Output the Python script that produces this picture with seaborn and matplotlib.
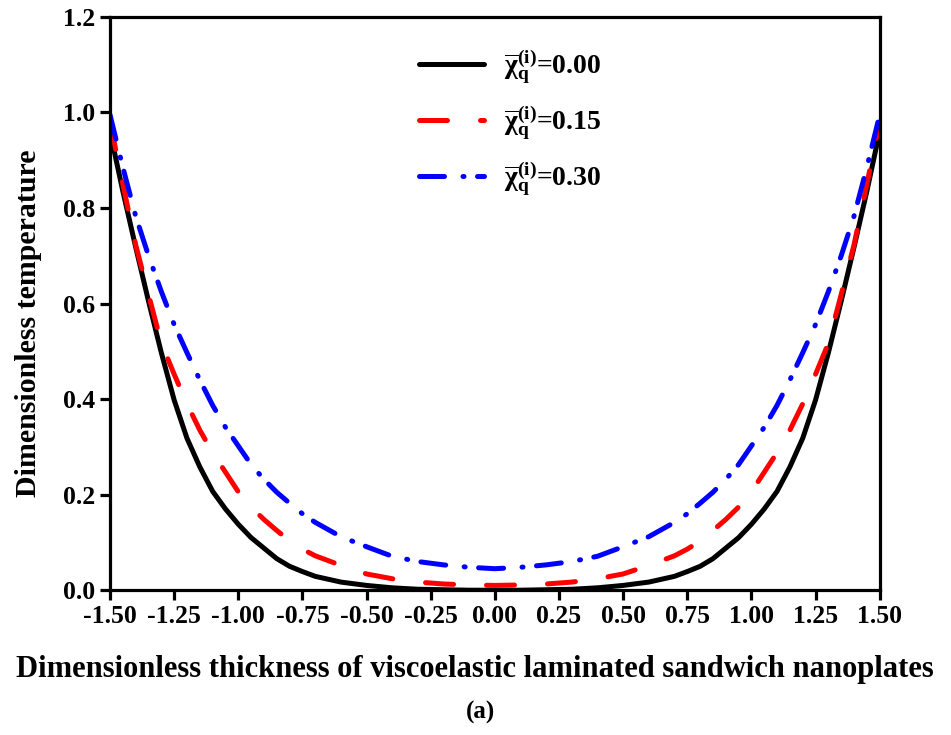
import numpy as np
import pandas as pd
import matplotlib
matplotlib.use("Agg")
import matplotlib.pyplot as plt
import seaborn as sns

# ---- data ----
thickness = [-1.50, -1.45, -1.40, -1.35, -1.30, -1.25, -1.20, -1.15, -1.10, -1.05, -1.00, -0.95, -0.90, -0.85,
             -0.80, -0.75, -0.70, -0.60, -0.50, -0.40, -0.30, -0.20, -0.10, 0.00, 0.10, 0.20, 0.30, 0.40,
             0.50, 0.60, 0.70, 0.75, 0.80, 0.85, 0.90, 0.95, 1.00, 1.05, 1.10, 1.15, 1.20, 1.25, 1.30,
             1.35, 1.40, 1.45, 1.50]

temp_000 = [0.960, 0.835, 0.718, 0.605, 0.497, 0.398, 0.318, 0.258, 0.207, 0.170, 0.138, 0.110, 0.088, 0.066,
            0.050, 0.039, 0.029, 0.017, 0.010, 0.005, 0.002, 0.001, 0.000, 0.000, 0.000, 0.001, 0.002, 0.005,
            0.010, 0.017, 0.029, 0.039, 0.050, 0.066, 0.088, 0.110, 0.138, 0.170, 0.207, 0.258, 0.318, 0.398,
            0.497, 0.605, 0.718, 0.835, 0.960]

temp_015 = [0.980, 0.850, 0.723, 0.619, 0.517, 0.452, 0.390, 0.335, 0.288, 0.247, 0.206, 0.174, 0.148, 0.125,
            0.103, 0.086, 0.072, 0.052, 0.034, 0.024, 0.017, 0.013, 0.011, 0.010, 0.011, 0.013, 0.017, 0.024,
            0.034, 0.052, 0.072, 0.086, 0.103, 0.125, 0.148, 0.174, 0.206, 0.247, 0.288, 0.335, 0.390, 0.452,
            0.517, 0.619, 0.723, 0.850, 0.980]

temp_030 = [0.995, 0.885, 0.783, 0.700, 0.625, 0.556, 0.497, 0.440, 0.387, 0.341, 0.302, 0.263, 0.232, 0.205,
            0.182, 0.160, 0.142, 0.112, 0.091, 0.071, 0.060, 0.053, 0.048, 0.045, 0.048, 0.053, 0.060, 0.071,
            0.091, 0.112, 0.142, 0.160, 0.182, 0.205, 0.232, 0.263, 0.302, 0.341, 0.387, 0.440, 0.497, 0.556,
            0.625, 0.700, 0.783, 0.885, 0.995]

labels = [r"$\overline{\chi}_{q}^{(i)}$=0.00",
          r"$\overline{\chi}_{q}^{(i)}$=0.15",
          r"$\overline{\chi}_{q}^{(i)}$=0.30"]

x_ticks = [-1.5, -1.25, -1.0, -0.75, -0.5, -0.25, 0.0, 0.25, 0.5, 0.75, 1.0, 1.25, 1.5]
y_ticks = [0.0, 0.2, 0.4, 0.6, 0.8, 1.0, 1.2]

# ---- style ----
sns.set_style("white")
plt.rcParams["font.family"] = ["Liberation Serif", "DejaVu Serif"]
plt.rcParams["font.weight"] = "bold"
plt.rcParams["mathtext.fontset"] = "custom"
plt.rcParams["mathtext.rm"] = "Liberation Serif:bold"
plt.rcParams["mathtext.it"] = "Liberation Serif:bold"
plt.rcParams["mathtext.bf"] = "Liberation Serif:bold"
plt.rcParams["mathtext.default"] = "bf"
for k in ["text.color", "axes.labelcolor", "xtick.color", "ytick.color", "axes.edgecolor"]:
    plt.rcParams[k] = "black"

fig = plt.figure(figsize=(9.51, 7.35), dpi=100)
ax = fig.add_axes([0.1157, 0.197, 0.8093, 0.780])

series = [temp_000, temp_015, temp_030]
colors = ["#000000", "#ff0000", "#0000ff"]
dashes = [None, (5.6, 6.6), (5.0, 3.7, 0.2, 2.7)]
lw = 3.6
for ys, c, d, lab in zip(series, colors, dashes, labels):
    df = pd.DataFrame({"x": thickness, "y": ys})
    sns.lineplot(data=df, x="x", y="y", ax=ax, color=c, linewidth=lw, label=lab)
    ln = ax.lines[-1]
    if d is not None:
        ln.set_dashes(d)
        ln.set_dash_capstyle("round")
    else:
        ln.set_solid_capstyle("round")

ax.set_xlim(-1.5, 1.5)
ax.set_ylim(0.0, 1.2)
ax.set_xticks(x_ticks)
ax.set_xticklabels([f"{v:.2f}" for v in x_ticks])
ax.set_yticks(y_ticks)
ax.set_yticklabels([f"{v:.1f}" for v in y_ticks])

for sp in ax.spines.values():
    sp.set_linewidth(2.3)
    sp.set_color("black")
ax.tick_params(axis="both", direction="out", length=7, width=2.3, labelsize=18.5,
               bottom=True, left=True, top=False, right=False, pad=4)
for t in ax.get_xticklabels() + ax.get_yticklabels():
    t.set_fontweight("bold")

ax.set_xlabel("Dimensionless thickness of viscoelastic laminated sandwich nanoplates",
              fontsize=22, fontweight="bold")
ax.xaxis.set_label_coords(0.474, -0.113)
ax.set_ylabel("Dimensionless temperature", fontsize=21.5, fontweight="bold")
ax.yaxis.set_label_coords(-0.088, 0.466)

leg = ax.legend(loc="upper left", bbox_to_anchor=(0.369, 0.99), frameon=False,
                fontsize=20, handlelength=2.35, handletextpad=0.7, labelspacing=0.62)

fig.text(0.505, 0.031, "(a)", ha="center", va="center", fontsize=18, fontweight="bold")

fig.savefig("out.png", dpi=100)
